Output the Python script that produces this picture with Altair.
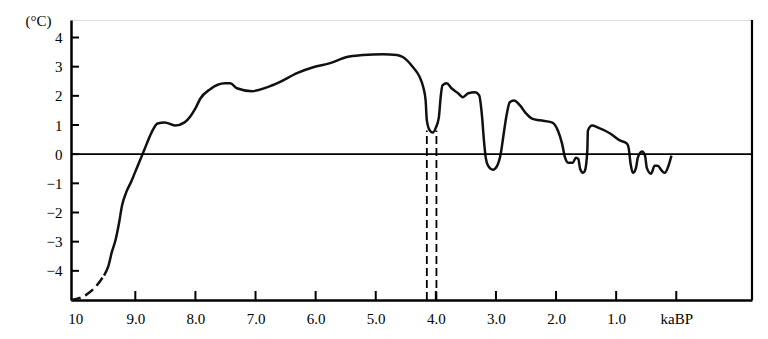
import altair as alt
import pandas as pd

# ---- data ----
# dashed (reconstructed) early part of the curve
dash_ka = [10.07, 9.83, 9.67, 9.52]
dash_t = [-5.0, -4.84, -4.57, -4.16]

# solid temperature anomaly curve (ka BP, degC)
ka = [9.52, 9.45, 9.39, 9.33, 9.27, 9.22, 9.15, 9.07, 8.99, 8.92, 8.85, 8.73, 8.63,
      8.51, 8.34, 8.18, 8.00, 7.92, 7.76, 7.51, 7.42, 7.31, 7.06, 6.81, 6.60,
      6.31, 6.04, 5.76, 5.48, 5.21, 4.88, 4.65, 4.55, 4.38, 4.27, 4.21, 4.17,
      4.15, 4.10, 4.05, 4.00, 3.95, 3.92, 3.89, 3.82, 3.74, 3.63, 3.55, 3.46,
      3.35, 3.28, 3.23, 3.20, 3.17, 3.13, 3.05, 2.98, 2.92, 2.88, 2.83, 2.77,
      2.70, 2.60, 2.50, 2.40, 2.27, 2.07, 1.97, 1.90, 1.85, 1.80, 1.72, 1.67,
      1.63, 1.60, 1.55, 1.52, 1.48, 1.47, 1.40, 1.30, 1.10, 0.94, 0.82, 0.79,
      0.76, 0.72, 0.67, 0.64, 0.57, 0.52, 0.49, 0.42, 0.36, 0.31, 0.24, 0.19,
      0.13, 0.08]
temp = [-4.16, -3.85, -3.35, -2.95, -2.35, -1.75, -1.3, -0.95, -0.55, -0.2, 0.15, 0.74, 1.05,
        1.09, 0.98, 1.09, 1.57, 1.9, 2.22, 2.43, 2.43, 2.26, 2.16, 2.29, 2.47,
        2.78, 2.98, 3.12, 3.33, 3.40, 3.43, 3.40, 3.33, 2.98, 2.65, 2.3, 1.84,
        1.16, 0.81, 0.74, 0.91, 1.26, 1.95, 2.36, 2.43, 2.26, 2.09, 1.95, 2.09,
        2.12, 2.02, 1.26, 0.47, -0.12, -0.40, -0.53, -0.40, 0.02, 0.57, 1.26, 1.78,
        1.84, 1.67, 1.40, 1.22, 1.16, 1.09, 0.81, 0.36, -0.12, -0.29, -0.29, -0.12,
        -0.16, -0.5, -0.64, -0.57, 0.12, 0.81, 0.98, 0.91, 0.71, 0.47, 0.36, 0.19,
        -0.33, -0.64, -0.47, -0.12, 0.09, -0.05, -0.47, -0.67, -0.40, -0.40, -0.57, -0.64,
        -0.40, -0.05]

# vertical dashed markers near 4.0 ka
mark_ka = [4.15, 3.99]
mark_top = [0.81, 0.81]

y_ticks = [-4, -3, -2, -1, 0, 1, 2, 3, 4]
x_ticks = [9, 8, 7, 6, 5, 4, 3, 2, 1, 0]
x_label_vals = [10, 9, 8, 7, 6, 5, 4, 3, 2, 1, 0]

X_MIN, X_MAX = -1.26, 10.07
Y_MIN, Y_MAX = -5.0, 4.6

W, H = 681, 280
FONT = "Liberation Serif"

xs = alt.Scale(domain=[X_MIN, X_MAX], reverse=True, nice=False, zero=False)
ys = alt.Scale(domain=[Y_MIN, Y_MAX], nice=False, zero=False)

xaxis = alt.Axis(values=x_label_vals, ticks=False, grid=False, domainColor="black",
                 domainWidth=2.5, labelFont=FONT, labelFontSize=15, labelColor="black",
                 labelPadding=11, labelFlush=False, labelOverlap=False,
                 labelExpr="datum.value == 10 ? '10' : (datum.value == 0 ? 'kaBP' : format(datum.value, '.1f'))",
                 title=None)
yaxis = alt.Axis(values=y_ticks, ticks=False, grid=False, domainColor="black",
                 domainWidth=2.5, labelFont=FONT, labelFontSize=15, labelColor="black",
                 labelPadding=9, labelOverlap=False, labelFlush=False, format="d",
                 title="(°C)", titleAngle=0, titleX=-33, titleY=0,
                 titleAlign="center", titleBaseline="middle", titleFont=FONT,
                 titleFontSize=15, titleFontWeight="normal", titleColor="black")


def X(f):
    return alt.X(f, type="quantitative", scale=xs, axis=xaxis)


def Y(f):
    return alt.Y(f, type="quantitative", scale=ys, axis=yaxis)


df = pd.DataFrame({"ka": ka, "t": temp})
ddf = pd.DataFrame({"ka": dash_ka, "t": dash_t})
mdf = pd.DataFrame({"ka": mark_ka, "top": mark_top, "bot": [Y_MIN] * len(mark_ka)})
ytdf = pd.DataFrame({"v": y_ticks})
xtdf = pd.DataFrame({"v": x_ticks})

curve = alt.Chart(df).mark_line(color="#111", strokeWidth=2.5, interpolate="monotone").encode(
    x=X("ka"), y=Y("t")
)
dashed = alt.Chart(ddf).mark_line(color="#111", strokeWidth=2.5, strokeDash=[10, 5],
                                  interpolate="monotone").encode(
    x=X("ka"), y=Y("t")
)

zero = alt.Chart(pd.DataFrame({"z": [0]})).mark_rule(color="black", strokeWidth=1.6).encode(
    y=Y("z")
)

right_border = alt.Chart(pd.DataFrame({"x": [X_MIN], "y1": [Y_MIN], "y2": [Y_MAX]})).mark_rule(
    color="black", strokeWidth=2.2).encode(
    x=X("x"), y=Y("y1"), y2="y2:Q"
)

yticks = alt.Chart(ytdf).mark_rule(color="black", strokeWidth=2).encode(
    y=Y("v"), x=alt.value(0), x2=alt.value(8)
)
xticks = alt.Chart(xtdf).mark_rule(color="black", strokeWidth=2).encode(
    x=X("v"), y=alt.value(H), y2=alt.value(H - 9)
)

markers = alt.Chart(mdf).mark_rule(color="black", strokeWidth=1.8, strokeDash=[8, 4]).encode(
    x=X("ka"), y=Y("bot"), y2="top:Q"
)

chart = alt.layer(curve, dashed, zero, right_border, yticks, xticks, markers).properties(
    width=W, height=H,
    autosize=alt.AutoSizeParams(type="none"),
    padding={"left": 71, "top": 20, "right": 16, "bottom": 39},
).configure_view(strokeWidth=0, stroke="transparent").configure(background="white")

chart.save("out.html", embed_options={"renderer": "svg", "actions": False})
